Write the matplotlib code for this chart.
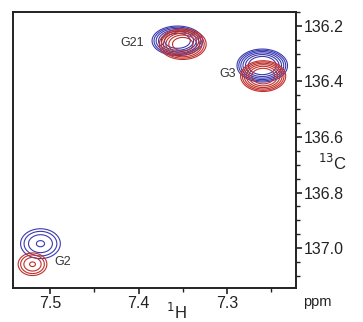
import matplotlib.pyplot as plt
import numpy as np

plt.rcParams['font.family'] = ['Liberation Sans', 'DejaVu Sans']

# peak list: label, 1H shift, 13C shift, widths (ppm), tilt, height
labels = ["G21", "G3", "G2"]
blue_h = [7.356, 7.260, 7.511]
blue_c = [136.254, 136.343, 136.984]
red_h = [7.350, 7.259, 7.520]
red_c = [136.266, 136.381, 137.058]
blue_wh = [0.0135, 0.013, 0.0155]
blue_wc = [0.025, 0.027, 0.037]
red_wh = [0.013, 0.012, 0.0112]
red_wc = [0.027, 0.026, 0.028]
tilt = [0.3, 0.0, 0.0]
blue_amp = [6.0, 7.0, 1.79]
red_amp = [5.0, 6.0, 1.79]
label_h = [7.394, 7.290, 7.495]
label_c = [136.262, 136.372, 137.05]

levels = [1.0, 1.4, 1.96, 2.74, 3.84, 5.38]

h = np.linspace(7.20, 7.56, 800)
c = np.linspace(136.1, 137.2, 800)
H, C = np.meshgrid(h, c)


def spectrum(hs, cs, whs, wcs, amps):
    z = np.zeros_like(H)
    for i in range(len(hs)):
        dh = (H - hs[i]) / whs[i]
        dc = (C - cs[i]) / wcs[i]
        a = tilt[i]
        u = dh * np.cos(a) + dc * np.sin(a)
        v = -dh * np.sin(a) + dc * np.cos(a)
        z += amps[i] * 1.6 * np.exp(-0.5 * (u**2 + v**2))
    return z


fig = plt.figure(figsize=(3.63, 3.22), dpi=100)
ax = fig.add_axes([0.036, 0.106, 0.779, 0.857])

ax.contour(H, C, spectrum(blue_h, blue_c, blue_wh, blue_wc, blue_amp),
           levels=levels, colors='#3a3ab0', linewidths=0.8)
ax.contour(H, C, spectrum(red_h, red_c, red_wh, red_wc, red_amp),
           levels=levels, colors='#c0302a', linewidths=0.8)

for i in range(len(labels)):
    ha = 'left' if labels[i] == "G2" else 'right'
    ax.text(label_h[i], label_c[i], labels[i], fontsize=9, color='#333333',
            ha=ha, va='center')

ax.set_xlim(7.542, 7.222)
ax.set_ylim(137.143, 136.154)
ax.set_xticks([7.5, 7.4, 7.3])
ax.set_xticks([7.45, 7.35, 7.25], minor=True)
ax.set_yticks([136.2, 136.4, 136.6, 136.8, 137.0])
ax.set_yticks(np.arange(136.15, 137.15, 0.05), minor=True)
ax.set_yticklabels(["136.2", "136.4", "136.6", "136.8", "137.0"])
ax.set_xticklabels(["7.5", "7.4", "7.3"])

ax.yaxis.tick_right()
ax.tick_params(axis='both', which='major', direction='out', length=4,
               width=1.2, labelsize=11.5, colors='#222222', pad=2)
ax.tick_params(axis='both', which='minor', direction='out', length=3,
               width=1.0, colors='#222222')
for s in ax.spines.values():
    s.set_linewidth(1.4)
    s.set_color('#222222')

fig.text(0.917, 0.495, r"$^{13}$C", fontsize=12, color='#222222',
         ha='center', va='center')
fig.text(0.873, 0.063, "ppm", fontsize=10.5, color='#222222',
         ha='center', va='center')
fig.text(0.487, 0.0, r"$^{1}$H", fontsize=12, color='#222222',
         ha='center', va='bottom')

plt.savefig("out.png", dpi=100)
